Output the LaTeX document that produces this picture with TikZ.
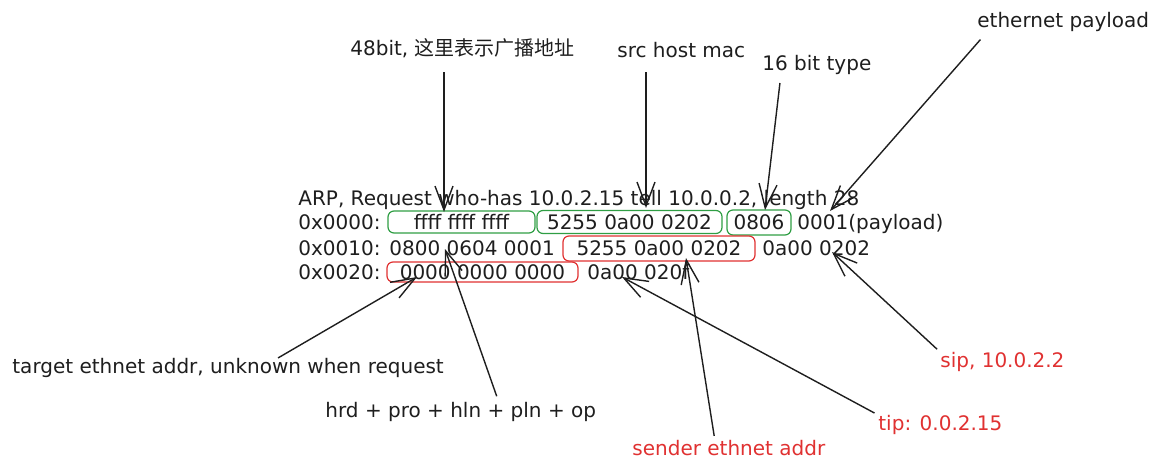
\documentclass[tikz,border=0pt]{standalone}
\usepackage{fontspec}
\setmainfont{DejaVu Sans}
\newfontfamily\cjkfont{Noto Sans CJK SC}
\usetikzlibrary{arrows.meta}
\definecolor{ink}{HTML}{1E1E1E}
\definecolor{boxgreen}{HTML}{2F9E44}
\definecolor{boxred}{HTML}{E03131}

\begin{document}
\begin{tikzpicture}[x=0.5pt, y=-0.5pt,
    hex/.style={anchor=base west, inner sep=0pt, text=ink},
    gfield/.style={draw=boxgreen, line width=0.6pt, rounded corners=3pt, inner sep=0pt, text=ink},
    rfield/.style={draw=boxred, line width=0.6pt, rounded corners=3pt, inner sep=0pt, text=ink},
    note/.style={anchor=west, inner sep=0pt, text=ink},
    rnote/.style={anchor=west, inner sep=0pt, text=boxred},
    arr/.style={draw=ink, line width=0.7pt, -{Straight Barb[length=12pt, width=9pt]}}]
      \useasboundingbox (0,0) rectangle (1152,471);

      % tcpdump lines
      \node[hex] (arp) at (298,205) {ARP, Request who-has 10.0.2.15 tell 10.0.0.2, length 28};
      \node[hex] (off0) at (298,229) {0x0000:};
      \node[gfield, minimum width=73.5pt, minimum height=11pt] (dst) at (461.5,222) {ffff ffff ffff};
      \node[gfield, minimum width=92.5pt, minimum height=11.5pt] (src) at (629.5,222) {5255 0a00 0202};
      \node[gfield, minimum width=32pt, minimum height=12.5pt] (etype) at (759,222.5) {0806};
      \node[hex] (rest0) at (797,229) {0001(payload)};
      \node[hex] (off1) at (298,255) {0x0010:};
      \node[hex] (hdr) at (389,255) {0800 0604 0001};
      \node[rfield, minimum width=96pt, minimum height=12.5pt] (sndmac) at (659,248.5) {5255 0a00 0202};
      \node[hex] (sndip) at (762,255) {0a00 0202};
      \node[hex] (off2) at (298,279) {0x0020:};
      \node[rfield, minimum width=95.5pt, minimum height=10pt] (tgtmac) at (482.5,272) {0000 0000 0000};
      \node[hex] (tgtip) at (587,279) {0a00 020f};

      % notes
      \node[note] (bcast) at (350,48) {48bit, \cjkfont 这里表示广播地址};
      \node[note] (srcmac) at (617,50) {src host mac};
      \node[note] (ethtype) at (762,65) {16 bit type};
      \node[note] (payload) at (977,22) {ethernet payload};
      \node[note] (tha) at (12,368) {target ethnet addr, unknown when request};
      \node[note] (ops) at (325,412) {hrd + pro + hln + pln + op};
      \node[rnote] (sha) at (632,448) {sender ethnet addr};
      \node[rnote] (tpa) at (878,425) {tip: 0.0.2.15};
      \node[rnote] (spa) at (940,362) {sip, 10.0.2.2};

      \coordinate (bcast-pt) at (444,212);
      \coordinate (srcmac-pt) at (646,208);
      \coordinate (ethtype-pt) at (765,210);
      \coordinate (payload-pt) at (830,211);
      \coordinate (tha-pt) at (417,277);
      \coordinate (ops-pt) at (445,249);
      \coordinate (sha-pt) at (686,258);
      \coordinate (tpa-pt) at (622,277);
      \coordinate (spa-pt) at (832,252);

      \draw[arr, shorten <=7pt] (bcast.south -| bcast-pt) -- (bcast-pt);
      \draw[arr, shorten <=7pt] (srcmac.south -| srcmac-pt) -- (srcmac-pt);
      \draw[arr, shorten <=4pt] ([xshift=-18pt]ethtype.south) -- (ethtype-pt);
      \draw[arr, shorten <=5pt] ([xshift=5pt]payload.south west) -- (payload-pt);
      \draw[arr] ([xshift=25pt]tha.north) -- (tha-pt);
      \draw[arr, shorten <=3pt] ([xshift=19pt]ops.north) -- (ops-pt);
      \draw[arr, shorten <=2pt] ([xshift=-7pt]sha.north) -- (sha-pt);
      \draw[arr, shorten <=2pt] (tpa.north west) -- (tpa-pt);
      \draw[arr, shorten <=2pt] (spa.north west) -- (spa-pt);
\end{tikzpicture}
\end{document}
